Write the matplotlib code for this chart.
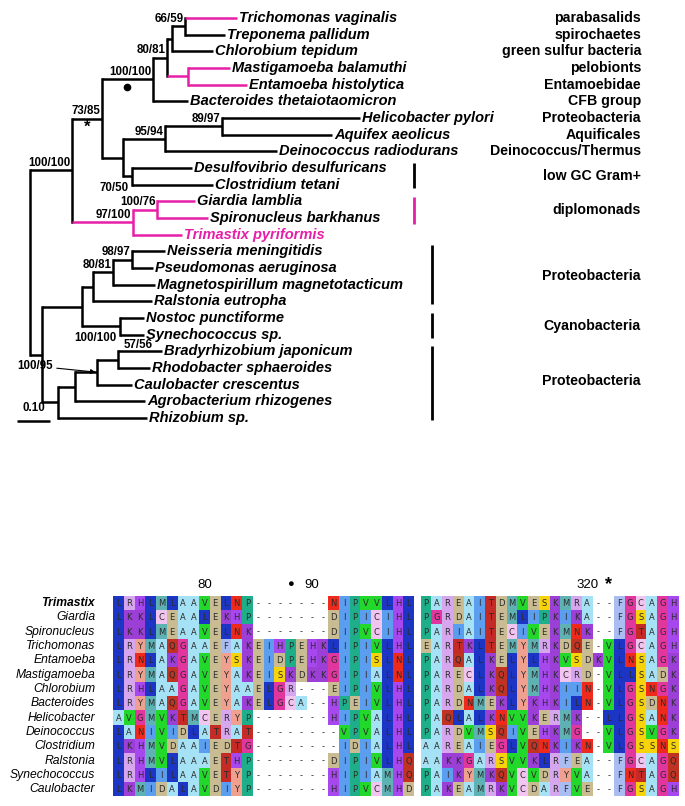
import matplotlib
matplotlib.use("Agg")
import matplotlib.pyplot as plt
from matplotlib.patches import Rectangle

# ---------------- DATA ----------------
# tree: parallel arrays (node, parent, branch length in subst./site, support)
node_ids = ["N73", "N100", "N80", "N167", "N172", "N66",
            "Trichomonas vaginalis", "Treponema pallidum", "Chlorobium tepidum",
            "NME", "Mastigamoeba balamuthi", "Entamoeba histolytica",
            "Bacteroides thetaiotaomicron",
            "N123", "N95", "N89", "Helicobacter pylori", "Aquifex aeolicus",
            "Deinococcus radiodurans", "N70", "Desulfovibrio desulfuricans", "Clostridium tetani",
            "NDIP", "N10076", "Giardia lamblia", "Spironucleus barkhanus", "Trimastix pyriformis",
            "NY", "NX", "NB3", "NB2", "NB", "Neisseria meningitidis", "Pseudomonas aeruginosa",
            "Magnetospirillum magnetotacticum", "Ralstonia eutropha",
            "NCY", "Nostoc punctiforme", "Synechococcus sp.",
            "NA1", "NA2", "NA3", "NA4", "Bradyrhizobium japonicum", "Rhodobacter sphaeroides",
            "Caulobacter crescentus", "Agrobacterium rhizogenes", "Rhizobium sp."]
node_parent = ["root", "N73", "N100", "N80", "N167", "N172",
               "N66", "N66", "N172",
               "N167", "NME", "NME",
               "N80",
               "N100", "N123", "N95", "N89", "N89",
               "N95", "N123", "N70", "N70",
               "N73", "NDIP", "N10076", "N10076", "NDIP",
               "root", "NY", "NX", "NB3", "NB2", "NB", "NB",
               "NB2", "NB3",
               "NX", "NCY", "NCY",
               "NY", "NA1", "NA2", "NA3", "NA4", "NA4",
               "NA3", "NA2", "NA1"]
branch_len = [0.127, 0.091, 0.155, 0.042, 0.015, 0.039,
              0.158, 0.121, 0.124,
              0.064, 0.127, 0.179,
              0.106,
              0.064, 0.127, 0.173, 0.418, 0.333,
              0.339, 0.027, 0.182, 0.245,
              0.185, 0.073, 0.115, 0.155, 0.148,
              0.036, 0.121, 0.033, 0.061, 0.058, 0.100, 0.064,
              0.127, 0.179,
              0.115, 0.073, 0.073,
              0.048, 0.052, 0.067, 0.064, 0.133, 0.097,
              0.106, 0.212, 0.270]
support = {"N73": "100/100", "N100": "73/85", "N80": "100/100", "N167": "80/81",
           "N66": "66/59", "N95": "95/94", "N89": "89/97", "N70": "70/50",
           "NDIP": "97/100", "N10076": "100/76", "NB": "98/97", "NB2": "80/81",
           "NCY": "100/100", "NA4": "57/56", "NA3": "100/95"}
highlight_taxa = ["Trichomonas vaginalis", "Mastigamoeba balamuthi", "Entamoeba histolytica",
                  "Giardia lamblia", "Spironucleus barkhanus", "Trimastix pyriformis"]

group_labels = ["parabasalids", "spirochaetes", "green sulfur bacteria", "pelobionts",
                "Entamoebidae", "CFB group", "Proteobacteria", "Aquificales",
                "Deinococcus/Thermus", "low GC Gram+", "diplomonads", "Proteobacteria",
                "Cyanobacteria", "Proteobacteria"]
group_rows = [0, 1, 2, 3, 4, 5, 6, 7, 8, 9.5, 11.5, 15.5, 18.5, 21.8]

scale_len = 0.10

# alignment
aln_names = ["Trimastix", "Giardia", "Spironucleus", "Trichomonas", "Entamoeba",
             "Mastigamoeba", "Chlorobium", "Bacteroides", "Helicobacter", "Deinococcus",
             "Clostridium", "Ralstonia", "Synechococcus", "Caulobacter"]
aln_block1 = ["LRHLMLAAVELNP-------NIPVVLHL",
              "LKKLCEAALEKHP-------DIPICIHL",
              "LKKLMEAAVELNK-------DIPVCIHL",
              "LRYMAQGAAEFAKEIHPEHKLIPIVLHL",
              "LRNLAKGAVEYSKEIDPEHKGIPISLNL",
              "LRYMAQGAVEYAKEISKDKKGIPIALNL",
              "LRHLAAGAVEYAAELGR---EIPIVLHL",
              "LRYMAQGAVEYAKELGCA--HPEIVLHL",
              "AVGMVKTMCERYP-------HIPVALHL",
              "LANIVIDLATRAT--------VPVALHL",
              "LKHMVDAAIEDTG--------IDIALHL",
              "LRHMVLAAAETHP-------DIPIVLHQ",
              "LRHLILAAVETYP-------HIPIAMHQ",
              "LKMIDALAVDIYP-------HIPVCMHD"]
aln_block2 = ["PAREAITDMVESKMRA--FGCAGH",
              "PGRDAITEMLIPKIKA--FGSAGH",
              "PARIAITECIVEKMNK--FGTAGH",
              "EARTKLTEMYMRKDQE-VLGCAGH",
              "PARQALKELYLHKVSDKVLNSAGK",
              "PARECLKQLYMHKCRD-VLLSADK",
              "PARDALKQLYMHKIIN-VLGSNGK",
              "PARDNMEKLYKHKILN-VLGSDNK",
              "PAQLALKNVVKERMK--LLGSANK",
              "PARDVMSQIVEHKMG--VLGSVGK",
              "AAREAIEGLVQNKIKN-VLGSSNS",
              "AAKKGARSVVKLRFEA--FGCAGQ",
              "PAIKYMKQVCVDRYVA--FNTAGQ",
              "PAKEAMRKVCDARFVE--FGSAGH"]
pos_labels = ["80", "90", "320"]
pos_cols = [8, 18, 15]        # column within its block
pos_block = [1, 1, 2]
marks = ["\u25CF", "*"]
mark_cols = [16, 17]
mark_block = [1, 2]

# ---------------- STYLE ----------------
W, H = 685, 806
MAG = "#e61ea8"
TREE_LW = 1.8
aa_colors = {"L": "#1c35c4", "I": "#5b9ef0", "V": "#22d82a", "M": "#5fb2b4",
             "A": "#a6e2f6", "F": "#a9bdf2", "C": "#f2c4f0", "G": "#e0369e",
             "P": "#1fae8a", "S": "#f6d30a", "T": "#c42a26", "N": "#ee2a1c",
             "Q": "#c03322", "D": "#c9bc92", "E": "#c9bc92", "K": "#9b3fd6",
             "R": "#d6a6ee", "H": "#a747ee", "Y": "#f0a08e", "W": "#ffa500",
             "-": "#ffffff"}

plt.rcParams["font.family"] = ["Liberation Sans", "DejaVu Sans"]
fig = plt.figure(figsize=(W / 100, H / 100), dpi=100)

# ---------------- TREE ----------------
X0, XS = 30.0, 330.0           # pixel of root, pixels per unit
Y0, YS = 18.0, 16.67           # pixel of first leaf, pixels per leaf
ax = fig.add_axes([0, 0, 1, 1])
ax.set_xlim(-X0 / XS, (W - X0) / XS)
ax.set_ylim((H - Y0) / YS, -Y0 / YS)
ax.axis("off")

def px(x):
    return (x - X0) / XS

def py(y):
    return (y - Y0) / YS

children = {}
for n, p in zip(node_ids, node_parent):
    children.setdefault(p, []).append(n)
blen = dict(zip(node_ids, branch_len))

xpos, ypos, leaves = {}, {}, []

def layout(n, d):
    xpos[n] = d
    if n not in children:
        ypos[n] = len(leaves)
        leaves.append(n)
        return
    for c in children[n]:
        layout(c, d + blen[c])
    ypos[n] = 0.5 * (ypos[children[n][0]] + ypos[children[n][-1]])

layout("root", 0.0)

def all_hl(n):
    if n not in children:
        return n in highlight_taxa
    return all(all_hl(c) for c in children[n])

for n, ch in children.items():
    col = MAG if all_hl(n) else "black"
    ax.plot([xpos[n], xpos[n]], [ypos[ch[0]], ypos[ch[-1]]], color=col, lw=TREE_LW,
            solid_capstyle="projecting", zorder=2)
    for c in ch:
        ccol = MAG if all_hl(c) else "black"
        ax.plot([xpos[n], xpos[c]], [ypos[c], ypos[c]], color=ccol, lw=TREE_LW,
                solid_capstyle="butt", zorder=2)

for lf in leaves:
    col = MAG if lf == "Trimastix pyriformis" else "black"
    ax.text(xpos[lf] + 2 / XS, ypos[lf], lf, fontsize=10.5, fontweight="bold",
            fontstyle="italic", color=col, va="center", ha="left")

SFS = 8.3
below = {"N70", "NCY"}
for n, s in support.items():
    xr = xpos[n] - 1.5 / XS
    if n == "NA3":
        ax.annotate(s, xy=(xpos[n], ypos[n]), xytext=(px(17), py(366)),
                    fontsize=SFS, fontweight="bold", va="center", ha="left",
                    arrowprops=dict(arrowstyle="-|>", color="black", lw=0.8,
                                    shrinkA=1, shrinkB=1, mutation_scale=7))
        continue
    if n == "NA4":
        ax.text(xpos[n] + 35 / XS, ypos[n] - 0.55, s, fontsize=SFS, fontweight="bold",
                ha="right", va="bottom")
        continue
    if n in below:
        ax.text(xr - 2 / XS, ypos[n] + 0.35, s, fontsize=SFS, fontweight="bold",
                ha="right", va="top")
    else:
        ax.text(xr, ypos[n] - 0.08, s, fontsize=SFS, fontweight="bold",
                ha="right", va="bottom")

# dot and star marks on branches
ax.plot(px(127), py(87), "o", color="black", ms=4.5)
ax.text(px(87), py(127), "*", fontsize=12, fontweight="bold", ha="center", va="center")

# group labels
for lab, r in zip(group_labels, group_rows):
    ax.text(px(641), r, lab, fontsize=10.2, fontweight="bold", ha="right", va="center")

# group bars
bar_specs = [(414, 163, 188, "black"), (414, 197, 224, MAG), (432, 245, 304, "black"),
             (432, 313, 338, "black"), (432, 346, 420, "black")]
for bx, y1, y2, c in bar_specs:
    ax.plot([px(bx), px(bx)], [py(y1), py(y2)], color=c, lw=2.0, solid_capstyle="butt")

# scale bar
ax.plot([px(17), px(17) + scale_len], [py(421), py(421)], color="black", lw=1.8,
        solid_capstyle="butt")
ax.text(px(17) + scale_len / 2, py(408), f"{scale_len:.2f}", fontsize=SFS,
        fontweight="bold", ha="center", va="center")

# ---------------- ALIGNMENT ----------------
CX0, CW = 113.0, 10.75
RY0, RH = 603.0, 14.33
GAP = 0.61
ax2 = fig.add_axes([0, 0, 1, 1])
ax2.set_xlim(-CX0 / CW, (W - CX0) / CW)
ax2.set_ylim((H - RY0) / RH + 0.0, -RY0 / RH)
ax2.axis("off")
ax2.patch.set_alpha(0)

n1 = len(aln_block1[0])
off2 = n1 + GAP

for r, (name, s1, s2) in enumerate(zip(aln_names, aln_block1, aln_block2)):
    ax2.text(-1.65, r, name, fontsize=8.7, fontstyle="italic",
             fontweight="bold" if r == 0 else "normal", ha="right", va="center")
    for off, seq in ((0, s1), (off2, s2)):
        for c, aa in enumerate(seq):
            ax2.add_patch(Rectangle((off + c, r - 0.5), 1, 1, facecolor=aa_colors[aa],
                                    edgecolor="none"))
            ax2.text(off + c + 0.5, r + 0.03, aa, fontsize=6.0, color="#2a2a2a",
                     ha="center", va="center", family="DejaVu Sans")

for lab, c, b in zip(pos_labels, pos_cols, pos_block):
    off = 0 if b == 1 else off2
    ax2.text(off + c + 0.5, -1.25, lab, fontsize=9.5, ha="center", va="center")
for m, c, b in zip(marks, mark_cols, mark_block):
    off = 0 if b == 1 else off2
    ax2.text(off + c + 0.5, -1.3, m, fontsize=8 if b == 1 else 13, fontweight="bold",
             ha="center", va="center")

fig.savefig("out.png", dpi=100)
